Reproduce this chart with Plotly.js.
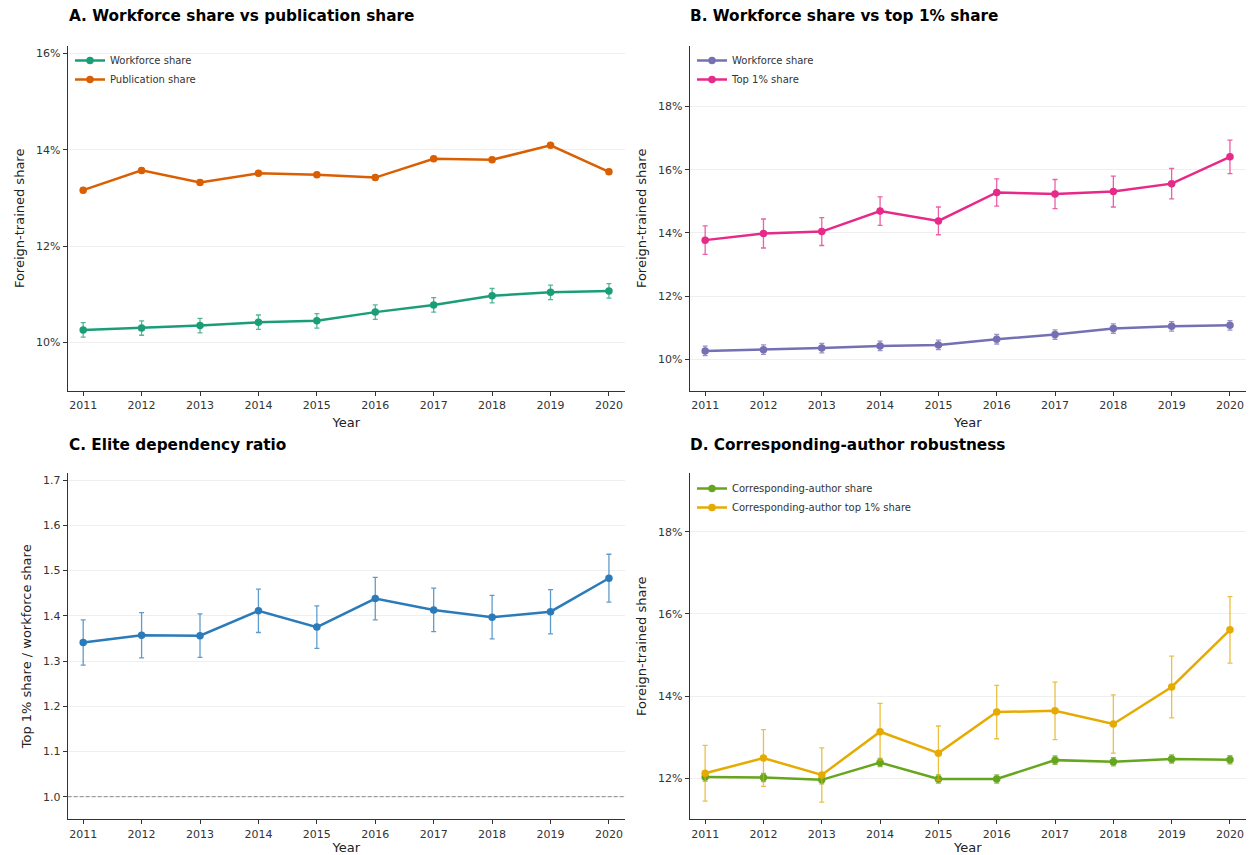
<!DOCTYPE html>
<html>
<head>
<meta charset="utf-8">
<script src="https://cdn.plot.ly/plotly-3.0.1.min.js"></script>
<style>
  html, body { margin: 0; padding: 0; background: #fff; }
  #chart { width: 1251px; height: 855px; }
</style>
</head>
<body>
<div id="chart"></div>
<script>
// Years shared by all four panels
const years = [2011, 2012, 2013, 2014, 2015, 2016, 2017, 2018, 2019, 2020];

// Panel A / B: foreign-trained share of the workforce (%), with 95% CI half-widths
const workforceShare = [10.26, 10.30, 10.35, 10.42, 10.45, 10.63, 10.78, 10.97, 11.04, 11.07];
const workforceErr   = [0.15, 0.15, 0.15, 0.15, 0.15, 0.15, 0.15, 0.15, 0.15, 0.15];

// Panel A: foreign-trained share of publications (%)
const publicationShare = [13.16, 13.57, 13.32, 13.51, 13.48, 13.42, 13.81, 13.79, 14.09, 13.54];
const publicationErr   = [0.05, 0.05, 0.05, 0.05, 0.05, 0.05, 0.05, 0.05, 0.05, 0.05];

// Panel B: foreign-trained share of top 1% cited papers (%)
const top1Share = [13.77, 13.98, 14.04, 14.69, 14.38, 15.28, 15.23, 15.31, 15.56, 16.41];
const top1Err   = [0.45, 0.46, 0.44, 0.45, 0.44, 0.43, 0.46, 0.49, 0.48, 0.53];

// Panel C: elite dependency ratio (top 1% share / workforce share)
const eliteRatio = [1.341, 1.357, 1.356, 1.411, 1.375, 1.438, 1.413, 1.397, 1.409, 1.483];
const eliteErr   = [0.050, 0.050, 0.048, 0.048, 0.047, 0.047, 0.048, 0.048, 0.049, 0.053];

// Panel D: corresponding-author shares (%)
const corrShare   = [12.03, 12.02, 11.96, 12.38, 11.98, 11.98, 12.44, 12.40, 12.47, 12.45];
const corrErr     = [0.10, 0.10, 0.10, 0.10, 0.10, 0.10, 0.10, 0.10, 0.10, 0.10];
const corrTop1    = [12.12, 12.49, 12.08, 13.13, 12.61, 13.61, 13.64, 13.32, 14.22, 15.61];
const corrTop1Err = [0.68, 0.69, 0.66, 0.69, 0.66, 0.65, 0.70, 0.71, 0.75, 0.81];

// Tick values
const pctTicksA = [10, 12, 14, 16];
const pctTicksB = [10, 12, 14, 16, 18];
const pctTicksD = [12, 14, 16, 18];
const ratioTicks = [1.0, 1.1, 1.2, 1.3, 1.4, 1.5, 1.6, 1.7];

// Panel titles
const panelTitles = [
  'A. Workforce share vs publication share',
  'B. Workforce share vs top 1% share',
  'C. Elite dependency ratio',
  'D. Corresponding-author robustness'
];

const W = 1251, H = 855;
const px = v => v / W;
const py = v => 1 - v / H;

function rgba(hex, a) {
  const n = parseInt(hex.slice(1), 16);
  return `rgba(${(n >> 16) & 255},${(n >> 8) & 255},${n & 255},${a})`;
}

function series(y, err, name, color, xa, ya, legend) {
  const t = {
    x: years, y: y, name: name,
    type: 'scatter', mode: 'lines+markers',
    xaxis: xa, yaxis: ya,
    line: { color: color, width: 2.5 },
    marker: { color: color, size: 7.5 },
    error_y: { type: 'data', array: err, visible: true, color: rgba(color, 0.75), thickness: 1.3, width: 2.5 },
    hoverinfo: 'x+y+name'
  };
  if (legend) { t.legend = legend; t.showlegend = true; } else { t.showlegend = false; }
  return t;
}

const traces = [
  series(workforceShare, workforceErr, 'Workforce share', '#1b9e77', 'x', 'y', 'legend'),
  series(publicationShare, publicationErr, 'Publication share', '#d95f02', 'x', 'y', 'legend'),
  series(workforceShare, workforceErr, 'Workforce share', '#7570b3', 'x2', 'y2', 'legend2'),
  series(top1Share, top1Err, 'Top 1% share', '#e7298a', 'x2', 'y2', 'legend2'),
  series(eliteRatio, eliteErr, 'Elite dependency ratio', '#2b7bba', 'x3', 'y3', null),
  series(corrShare, corrErr, 'Corresponding-author share', '#66a61e', 'x4', 'y4', 'legend3'),
  series(corrTop1, corrTop1Err, 'Corresponding-author top 1% share', '#e6ab02', 'x4', 'y4', 'legend3')
];

const tickFont = { family: 'DejaVu Sans', size: 11, color: '#333' };
const labelFont = { family: 'DejaVu Sans', size: 13, color: '#222' };

function xAxis(domain, anchor) {
  return {
    domain: domain, anchor: anchor,
    range: [2010.735, 2020.275],
    tickvals: years, ticktext: years.map(String),
    ticks: 'outside', ticklen: 4, tickwidth: 1, tickcolor: '#333',
    showline: true, linecolor: '#333', linewidth: 1,
    showgrid: false, zeroline: false,
    tickfont: tickFont,
    title: { text: 'Year', font: labelFont, standoff: 6 },
    automargin: false
  };
}

function yAxis(domain, anchor, range, tickvals, suffix, label) {
  return {
    domain: domain, anchor: anchor,
    range: range, tickvals: tickvals,
    ticktext: tickvals.map(v => suffix ? v + suffix : v.toFixed(1)),
    ticks: 'outside', ticklen: 4, tickwidth: 1, tickcolor: '#333',
    showline: true, linecolor: '#333', linewidth: 1,
    showgrid: true, gridcolor: '#efefef', gridwidth: 1,
    zeroline: false,
    tickfont: tickFont,
    title: { text: label, font: labelFont, standoff: 8 },
    automargin: false
  };
}

const xLeft = [px(67.7), px(625)];
const xRight = [px(689.7), px(1246)];
const yTop = [py(390.7), py(46)];
const yBot = [py(819.3), py(473.3)];

function legendAt(xPix, yPix) {
  return {
    x: px(xPix), y: py(yPix), xanchor: 'left', yanchor: 'top',
    bgcolor: 'rgba(0,0,0,0)', borderwidth: 0,
    font: { family: 'DejaVu Sans', size: 10, color: '#333' },
    itemwidth: 30, tracegroupgap: 0
  };
}

const titleAnn = (text, xPix, yPix) => ({
  text: '<b>' + text + '</b>', xref: 'paper', yref: 'paper',
  x: px(xPix), y: py(yPix), xanchor: 'left', yanchor: 'middle',
  showarrow: false, font: { family: 'DejaVu Sans', size: 15.3, color: '#000' }
});

const layout = {
  width: W, height: H,
  margin: { l: 0, r: 0, t: 0, b: 0 },
  paper_bgcolor: '#fff', plot_bgcolor: '#fff',
  showlegend: true,
  xaxis: xAxis(xLeft, 'y'),
  yaxis: yAxis(yTop, 'x', [9.0, 16.15], pctTicksA, '%', 'Foreign-trained share'),
  xaxis2: xAxis(xRight, 'y2'),
  yaxis2: yAxis(yTop, 'x2', [9.0, 19.92], pctTicksB, '%', 'Foreign-trained share'),
  xaxis3: xAxis(xLeft, 'y3'),
  yaxis3: yAxis(yBot, 'x3', [0.95, 1.715], ratioTicks, '', 'Top 1% share / workforce share'),
  xaxis4: xAxis(xRight, 'y4'),
  yaxis4: yAxis(yBot, 'x4', [11.0, 19.42], pctTicksD, '%', 'Foreign-trained share'),
  legend: legendAt(70, 46),
  legend2: legendAt(692, 46),
  legend3: legendAt(692, 474),
  shapes: [{
    // reference line at ratio = 1 (parity)
    type: 'line', xref: 'x3 domain', yref: 'y3',
    x0: 0, x1: 1, y0: 1.0, y1: 1.0,
    line: { color: '#8a8a8a', width: 1, dash: '4px,2px' }, layer: 'above'
  }],
  annotations: [
    titleAnn(panelTitles[0], 67, 16),
    titleAnn(panelTitles[1], 688, 16),
    titleAnn(panelTitles[2], 67, 445),
    titleAnn(panelTitles[3], 688, 445)
  ]
};

Plotly.newPlot('chart', traces, layout, { staticPlot: true, displayModeBar: false });
</script>
</body>
</html>
